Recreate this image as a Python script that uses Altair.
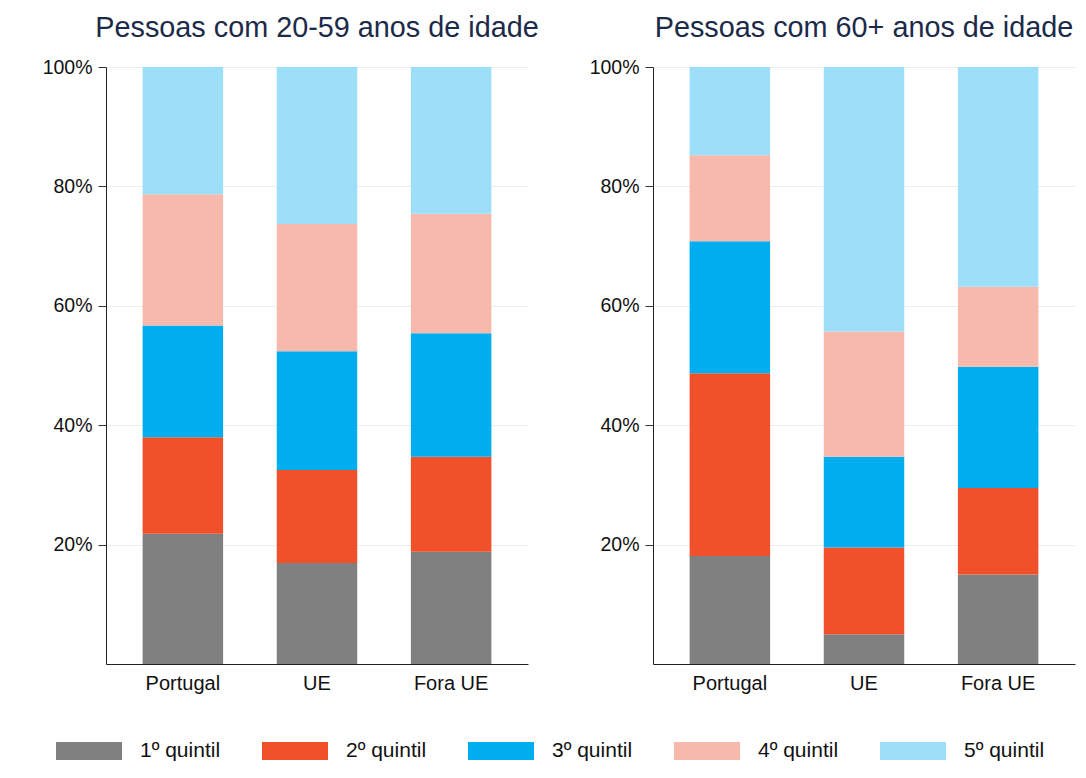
import altair as alt
import pandas as pd

regioes = ["Portugal", "UE", "Fora UE"]
quintis = ["1º quintil", "2º quintil", "3º quintil", "4º quintil", "5º quintil"]
cores = ["#808080", "#f0502a", "#00aeef", "#f7b9ab", "#9ddff8"]

# shares (%) by quintile, for each region
idade_20_59 = {
    "Portugal": [21.8, 16.2, 18.7, 22.0, 21.3],
    "UE": [16.9, 15.6, 19.9, 21.3, 26.3],
    "Fora UE": [18.8, 15.9, 20.7, 20.0, 24.6],
}
idade_60_mais = {
    "Portugal": [18.1, 30.6, 22.1, 14.4, 14.8],
    "UE": [5.0, 14.5, 15.2, 21.0, 44.3],
    "Fora UE": [15.0, 14.5, 20.3, 13.4, 36.8],
}

titulos = ["Pessoas com 20-59 anos de idade", "Pessoas com 60+ anos de idade"]


def tabela(d):
    rows = []
    for r in regioes:
        for i, q in enumerate(quintis):
            rows.append({"regiao": r, "quintil": q, "ordem": i, "valor": d[r][i]})
    return pd.DataFrame(rows)


FONT = "Liberation Sans"
PW, PH = 422, 597

legend = alt.Legend(
    title=None,
    orient="none",
    direction="horizontal",
    legendX=-50,
    legendY=651,
    symbolType="M-1,-0.2727L1,-0.2727L1,0.2727L-1,0.2727Z",
    symbolSize=4356,
    symbolStrokeWidth=0,
    symbolOpacity=1,
    labelFontSize=21,
    labelFont=FONT,
    labelColor="#111111",
    labelOffset=18,
    columnPadding=41,
)


def painel(d, titulo):
    return (
        alt.Chart(tabela(d))
        .mark_bar()
        .encode(
            x=alt.X(
                "regiao:N",
                sort=regioes,
                scale=alt.Scale(paddingInner=0.4, paddingOuter=0.273),
                axis=alt.Axis(
                    title=None,
                    labelAngle=0,
                    ticks=False,
                    domainColor="#222222",
                    labelFontSize=20,
                    labelFont=FONT,
                    labelColor="#111111",
                    labelPadding=9,
                ),
            ),
            y=alt.Y(
                "valor:Q",
                stack="zero",
                scale=alt.Scale(domain=[0, 100], nice=False),
                axis=alt.Axis(
                    title=None,
                    values=[20, 40, 60, 80, 100],
                    labelExpr="datum.value + '%'",
                    tickSize=8,
                    tickColor="#333333",
                    domainColor="#222222",
                    gridColor="#e8efef",
                    labelFontSize=19.5,
                    labelFont=FONT,
                    labelColor="#111111",
                    labelPadding=6,
                ),
            ),
            color=alt.Color(
                "quintil:N",
                sort=quintis,
                scale=alt.Scale(domain=quintis, range=cores),
                legend=legend,
            ),
            order=alt.Order("ordem:Q", sort="ascending"),
        )
        .properties(
            width=PW,
            height=PH,
            title=alt.TitleParams(
                titulo,
                fontSize=28.8,
                font=FONT,
                fontWeight="normal",
                color="#1c2a4a",
                anchor="middle",
                frame="group",
                offset=14,
            ),
        )
    )


chart = (
    alt.hconcat(painel(idade_20_59, titulos[0]), painel(idade_60_mais, titulos[1]), spacing=125)
    .properties(bounds="flush", padding={"left": 34, "top": 6, "right": 2, "bottom": 0}, background="white")
    .configure_view(stroke=None)
)

chart.save("out.html", embed_options={"renderer": "svg", "actions": False})
